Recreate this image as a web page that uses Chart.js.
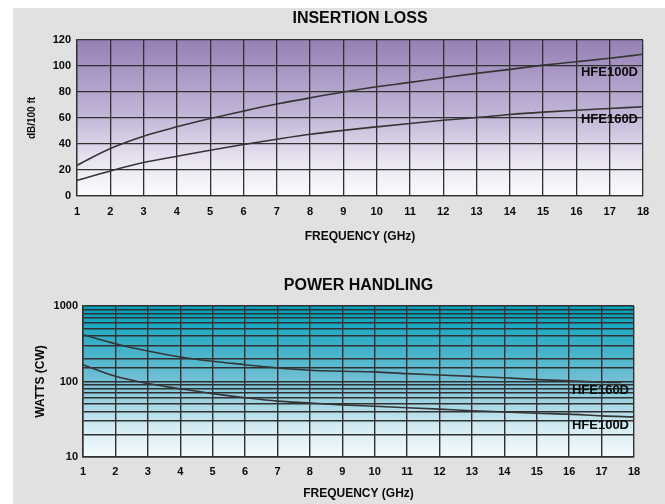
<!DOCTYPE html>
<html>
<head>
<meta charset="utf-8">
<script src="https://cdn.jsdelivr.net/npm/chart.js@4.4.1/dist/chart.umd.min.js"></script>
<style>
  html, body { margin: 0; padding: 0; background: #fff; }
  .sheet { position: absolute; left: 13px; top: 8px; width: 652px; height: 496px; background: #e1e1e1; }
  .box { position: absolute; left: 0; width: 652px; }
  #box1 { top: 0; height: 250px; }
  #box2 { top: 250px; height: 246px; }
</style>
</head>
<body>
<div class="sheet">
  <div class="box" id="box1"><canvas id="lossChart"></canvas></div>
  <div class="box" id="box2"><canvas id="powerChart"></canvas></div>
</div>
<script>
// Data

const freq = [1, 2, 3, 4, 5, 6, 7, 8, 9, 10, 11, 12, 13, 14, 15, 16, 17, 18];

const lossHFE100D = [23.6, 36.5, 46, 53.2, 59.6, 65.3, 70.7, 75.5, 80, 84, 87.4, 91, 94.3, 97.4, 100.7, 103.3, 106, 109];
const lossHFE160D = [12, 19.3, 25.7, 30.6, 35.2, 39.6, 43.7, 47.5, 50.5, 53.2, 55.8, 58.3, 60.4, 62.7, 64.5, 66, 67.3, 68.6];

const powerFreq160 = [1, 2, 3, 4, 5, 6, 7, 8, 9, 10, 11, 12, 13, 14, 15, 16, 17, 17.6];
const powerHFE160D = [417, 317, 253, 211, 185, 167, 151, 141, 137, 134, 127, 122, 117, 112, 106, 102, 98, 97];
const powerHFE100D = [167, 117, 94, 80, 69, 61, 55, 52, 49, 47, 45, 43, 41, 39.5, 38, 37, 35, 34];

const lossTicks = [0, 20, 40, 60, 80, 100, 120];
const powerTickLabels = [10, 100, 1000];

const FONT = "'Liberation Sans', Arial, sans-serif";
const GRID = "#303030";
const LINE = "#353535";
const TEXT = "#0a0a0a";

function toPoints(xs, ys) {
  return xs.map((x, i) => ({ x: x, y: ys[i] }));
}

// plot area gradient
function plotBackground(stops) {
  return {
    id: "plotBg",
    beforeDraw(chart) {
      const { ctx, chartArea: a } = chart;
      const g = ctx.createLinearGradient(0, a.top, 0, a.bottom);
      stops.forEach((s) => g.addColorStop(s[0], s[1]));
      ctx.save();
      ctx.fillStyle = g;
      ctx.fillRect(a.left, a.top, a.width, a.height);
      ctx.restore();
    },
  };
}

// title centred over the plot + curve names at the right
function chartText(title, titleY, names) {
  return {
    id: "chartText",
    afterDraw(chart) {
      const { ctx, chartArea: a, scales } = chart;
      ctx.save();
      ctx.fillStyle = TEXT;
      ctx.textBaseline = "middle";
      ctx.textAlign = "center";
      ctx.font = "bold 16px " + FONT;
      ctx.fillText(title, (a.left + a.right) / 2, titleY);
      ctx.textAlign = "right";
      ctx.font = "bold 13px " + FONT;
      names.forEach((n) => {
        ctx.fillText(n.text, a.right - 5, scales.y.getPixelForValue(n.at));
      });
      ctx.restore();
    },
  };
}

function xScale(axisHeight, tickPad, titlePad, gridWidth) {
  return {
    type: "linear",
    min: 1,
    max: 18,
    afterFit: (s) => { s.height = axisHeight; },
    ticks: { stepSize: 1, padding: tickPad, color: TEXT, font: { family: FONT, size: 11, weight: "bold" } },
    grid: { color: GRID, lineWidth: gridWidth, drawTicks: false },
    border: { color: GRID, width: gridWidth },
    title: {
      display: true,
      text: "FREQUENCY (GHz)",
      color: TEXT,
      font: { family: FONT, size: 12, weight: "bold" },
      padding: { top: 0, bottom: titlePad },
    },
  };
}

// ----- Insertion loss -----

new Chart(document.getElementById("lossChart"), {
  type: "line",
  data: {
    datasets: [
      { label: "HFE100D", data: toPoints(freq, lossHFE100D) },
      { label: "HFE160D", data: toPoints(freq, lossHFE160D) },
    ],
  },
  options: {
    responsive: true,
    maintainAspectRatio: false,
    animation: false,
    layout: { padding: { top: 32, right: 22, left: 0, bottom: 0 } },
    elements: {
      line: { borderColor: LINE, borderWidth: 1.6, cubicInterpolationMode: "monotone" },
      point: { radius: 0 },
    },
    plugins: { legend: { display: false }, tooltip: { enabled: false } },
    scales: {
      x: xScale(62, 9, 14, 1.3),
      y: {
        min: 0,
        max: 120,
        afterFit: (s) => { s.width = 64; },
        afterBuildTicks: (s) => { s.ticks = lossTicks.map((v) => ({ value: v })); },
        ticks: { padding: 6, color: TEXT, font: { family: FONT, size: 11, weight: "bold" } },
        grid: { color: GRID, lineWidth: 1.3, drawTicks: false },
        border: { color: GRID, width: 1.3 },
        title: {
          display: true,
          text: "dB/100 ft",
          color: TEXT,
          font: { family: FONT, size: 10, weight: "bold" },
          padding: { top: 13, bottom: 0 },
        },
      },
    },
  },
  plugins: [
    plotBackground([
      [0, "rgb(150,128,181)"],
      [0.5, "rgb(196,184,217)"],
      [0.8, "rgb(236,232,243)"],
      [1, "rgb(252,251,253)"],
    ]),
    chartText("INSERTION LOSS", 11, [
      { text: "HFE100D", at: 95 },
      { text: "HFE160D", at: 59 },
    ]),
  ],
});

// ----- Power handling -----

new Chart(document.getElementById("powerChart"), {
  type: "line",
  data: {
    datasets: [
      { label: "HFE160D", data: toPoints(powerFreq160, powerHFE160D) },
      { label: "HFE100D", data: toPoints(freq, powerHFE100D) },
    ],
  },
  options: {
    responsive: true,
    maintainAspectRatio: false,
    animation: false,
    layout: { padding: { top: 48, right: 31, left: 0, bottom: 0 } },
    elements: {
      line: { borderColor: LINE, borderWidth: 1.6, cubicInterpolationMode: "monotone" },
      point: { radius: 0 },
    },
    plugins: { legend: { display: false }, tooltip: { enabled: false } },
    scales: {
      x: xScale(47, 8, 3, 1.4),
      y: {
        type: "logarithmic",
        min: 10,
        max: 1000,
        afterFit: (s) => { s.width = 70; },
        ticks: {
          autoSkip: false,
          padding: 5,
          color: TEXT,
          font: { family: FONT, size: 11, weight: "bold" },
          callback: (v) => (powerTickLabels.includes(v) ? String(v) : ""),
        },
        grid: { color: GRID, lineWidth: 1.5, drawTicks: false },
        border: { color: GRID, width: 1.5 },
        title: {
          display: true,
          text: "WATTS (CW)",
          color: TEXT,
          font: { family: FONT, size: 12, weight: "bold" },
          padding: { top: 20, bottom: 0 },
        },
      },
    },
  },
  plugins: [
    plotBackground([
      [0, "rgb(0,160,187)"],
      [0.5, "rgb(115,192,213)"],
      [0.8, "rgb(210,235,242)"],
      [1, "rgb(246,251,253)"],
    ]),
    chartText("POWER HANDLING", 28, [
      { text: "HFE160D", at: 77 },
      { text: "HFE100D", at: 26.5 },
    ]),
  ],
});
</script>
</body>
</html>
